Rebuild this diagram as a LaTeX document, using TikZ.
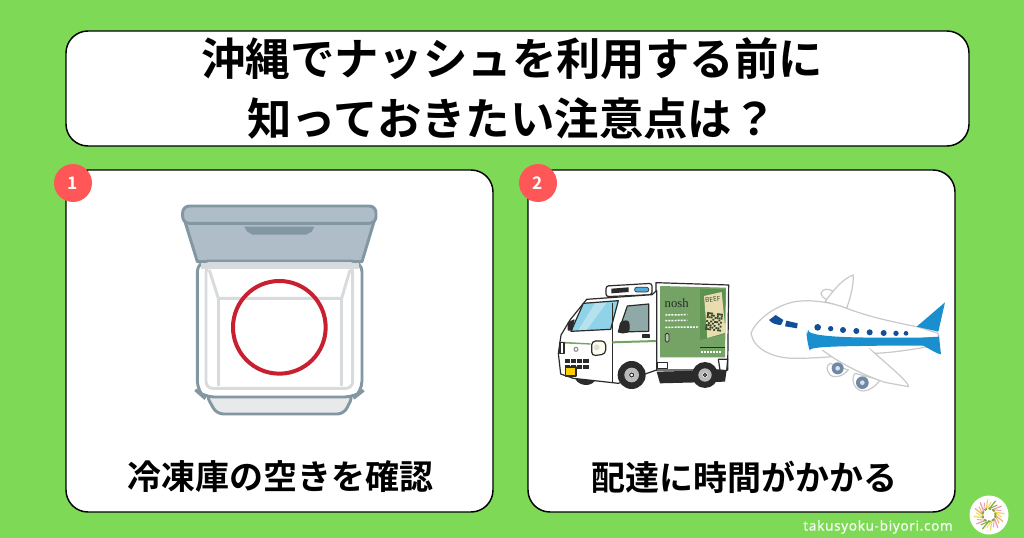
\documentclass[tikz,border=0pt]{standalone}
\usepackage{fontspec}
\setmainfont{Noto Sans}
\newfontfamily\cjk{Noto Sans CJK JP}[BoldFont={Noto Sans CJK JP Bold}]
\newfontfamily\urlfont{Noto Sans}[LetterSpace=5,FakeBold=0.6]
\newfontfamily\logofont{Liberation Serif}
\definecolor{bg}{HTML}{7ED957}
\definecolor{badge}{HTML}{FF5757}
\definecolor{lidc}{HTML}{AFBDC8}
\definecolor{lidl}{HTML}{8397A3}
\definecolor{inner}{HTML}{D8DBDD}
\definecolor{ringc}{HTML}{C9202F}
\definecolor{tgreen}{HTML}{74A365}
\definecolor{tdark}{HTML}{5C9150}
\definecolor{paper}{HTML}{E9DDB0}
\definecolor{ink}{HTML}{2B2B2B}
\definecolor{glassc}{HTML}{8FD3E8}
\definecolor{doorglass}{HTML}{8FA9A8}
\definecolor{pblue}{HTML}{1A8FD0}
\definecolor{pnavy}{HTML}{124F97}
\definecolor{pgrey}{HTML}{C9C9C9}
\definecolor{engine}{HTML}{6F88A6}
\definecolor{lpink}{HTML}{F09AB0}
\definecolor{lyellow}{HTML}{F2D65A}
\definecolor{lorange}{HTML}{F0B060}
\definecolor{lgreen}{HTML}{7FA83C}
\tikzset{
  panel/.style={draw=black,line width=1.1pt,fill=white,rounded corners=16.5pt},
  badgenode/.style={circle,fill=badge,text=white,minimum size=28.5pt,inner sep=0pt,font=\cjk\bfseries\fontsize{13}{13}\selectfont},
  titletext/.style={font=\cjk\bfseries\fontsize{33.3}{44.3}\selectfont,align=center,text=black,inner sep=0pt},
  captext/.style={font=\cjk\bfseries\fontsize{25.5}{25.5}\selectfont,text=black,inner sep=0pt},
  truckline/.style={draw=ink,line width=0.9pt,line join=round},
  planeline/.style={draw=pgrey,line width=0.9pt,line join=round,fill=white},
  zoomgrid/.style={shift={#1},scale=1/3}
}
\begin{document}
\begin{tikzpicture}[x=0.75pt,y=-0.75pt]
\useasboundingbox (0,0) rectangle (1024,538);
\fill[bg] (0,0) rectangle (1024,538);
% panels
\draw[panel] (66,31) rectangle (969,146);
\draw[panel] (66,170) rectangle (493,512);
\draw[panel] (528,170) rectangle (955,512);
\node[titletext] (title) at (512,88.5) {沖縄でナッシュを利用する前に\\知っておきたい注意点は？};
\node[badgenode] (b1) at (73,183) {1};
\node[badgenode] (b2) at (538,183) {2};
\node[captext] (c1) at (280,477) {冷凍庫の空きを確認};
\node[captext] (c2) at (744.5,477) {配達に時間がかかる};
% freezer
\begin{scope}[zoomgrid={(170,195)}]
  \draw[lidl,fill=inner!60,line width=2.2pt,rounded corners=5pt] (108,600) -- (550,600) -- (522,657) -- (140,657) -- cycle;
  \draw[lidl,fill=lidc,line width=2.2pt,line join=round] (45,80) -- (612,80) -- (576,200) -- (82,200) -- cycle;
  \draw[lidl,fill=lidc,line width=2.2pt,rounded corners=5pt] (38,33) rectangle (618,85);
  \fill[lidl] (223,95) -- (433,95) -- (425,110) -- (408,119) -- (248,119) -- (232,110) -- cycle;
  \draw[lidl,fill=white,line width=2.2pt,rounded corners=8pt] (82,198) -- (576,198) -- (576,590) -- (556,606) -- (100,606) -- (82,590) -- cycle;
  \fill[inner] (92,203) rectangle (568,222);
  \draw[inner,line width=2.2pt,rounded corners=5pt] (108,212) rectangle (548,580);
  \draw[inner,line width=2.2pt] (118,225) -- (145,310) -- (515,310) -- (540,225);
  \draw[inner,line width=2.2pt] (145,310) -- (145,572);
  \draw[inner,line width=2.2pt] (515,310) -- (515,572);
  \draw[ringc,line width=3pt] (328,397) circle (139);
\end{scope}
% truck
\begin{scope}[zoomgrid={(550,270)}]
  \fill[ink] (70,310) .. controls (75,355) and (135,355) .. (140,320) -- cycle;
  % box
  \draw[truckline,fill=white] (318,38) -- (536,45) -- (533,300) -- (318,300) -- cycle;
  \fill[tgreen] (330,48) -- (528,53) -- (525,262) -- (330,262) -- cycle;
  % chassis
  \fill[ink] (320,305) -- (530,300) -- (525,335) -- (330,340) -- cycle;
  \draw[truckline,fill=white] (322,278) rectangle (352,296);
  \draw[truckline,fill=white] (505,268) -- (533,268) -- (530,302) -- (510,300) -- cycle;
  % cooling unit
  \draw[truckline,fill=white,rounded corners=2pt] (168,48) -- (306,40) -- (306,74) -- (168,80) -- cycle;
  \fill[ink] (184,56) -- (236,52) -- (236,66) -- (184,70) -- cycle;
  \draw[ink,fill=pblue!75!white,line width=0.5pt,rounded corners=1.5pt] (254,52) rectangle (296,66);
  % cab
  \draw[truckline,fill=white] (110,88) -- (306,74) -- (320,62) -- (320,300) -- (205,340) -- (70,325) -- (32,312) -- (25,250) -- (33,195) -- (60,150) -- cycle;
  \draw[truckline,fill=glassc] (100,100) -- (205,92) -- (182,178) -- (63,184) -- cycle;
  \fill[white,opacity=.35] (135,100) -- (170,98) -- (110,180) -- (85,180) -- cycle;
  \draw[truckline,fill=ink] (55,158) -- (72,150) -- (65,180) -- (55,180) -- cycle;
  % door window
  \draw[truckline,fill=doorglass] (205,186) -- (232,108) -- (296,102) -- (296,184) -- cycle;
  \draw[truckline,fill=ink,rounded corners=2pt] (206,188) -- (212,155) -- (236,152) -- (238,182) -- (230,188) -- cycle;
  \draw[truckline] (187,100) -- (187,340);
  \draw[truckline,fill=ink] (278,195) rectangle (298,203);
  \fill[tgreen] (32,215) -- (122,220) -- (122,224) -- (32,220) -- cycle;
  \fill[tgreen] (187,214) -- (318,210) -- (318,216) -- (187,220) -- cycle;
  % headlamp
  \draw[truckline,fill=yellow!8!white,rounded corners=3pt] (125,213) -- (167,213) -- (167,252) -- (125,258) -- cycle;
  \fill[gray!25] (140,232) circle (9);
  \draw[truckline,fill=white] (30,218) -- (42,218) -- (42,250) -- (30,250) -- cycle;
  \draw[gray,line width=0.7pt] (78,238) circle (6);
  % bumper
  \fill[ink] (44,268) rectangle (116,280);
  \fill[ink] (44,285) rectangle (116,296);
  \foreach \x in {60,78,96}{\fill[white] (\x,268) rectangle +(4,28);}
  \draw[truckline,fill=yellow!65!orange] (46,291) rectangle (78,318);
  % wheels
  \fill[ink] (245,315) circle (42);
  \fill[gray!55] (245,315) circle (22);
  \fill[white] (245,315) circle (9);
  \draw[ink,line width=0.8pt] (245,315) circle (6);
  \fill[ink] (465,315) circle (39);
  \fill[gray!55] (465,315) circle (20);
  \fill[white] (465,315) circle (8);
  \draw[ink,line width=0.8pt] (465,315) circle (5);
  % graphics on box
  \node[text=ink,inner sep=0pt,font=\logofont\fontsize{9.5}{9.5}\selectfont] (noshlogo) at (380,100) {nosh};
  \foreach \yy/\xe in {135/412,152/412,172/444}{
    \draw[white,line width=1.1pt,dash pattern=on 1.5pt off 0.8pt] (346,\yy) -- (\xe,\yy-1);
  }
  \draw[ink,fill=tgreen!60!black!40!white,rounded corners=1pt,line width=0.6pt] (346,190) rectangle (357,216);
  \fill[tdark] (450,56) -- (526,58) -- (524,192) -- (450,210) -- cycle;
  \fill[paper] (462,78) -- (515,66) -- (527,188) -- (472,204) -- cycle;
  \node[rotate=6,text=tgreen!50!black,inner sep=0pt,font=\bfseries\fontsize{5}{5}\selectfont] (beef) at (488,88) {BEEF};
  \begin{scope}[shift={(472,126)},rotate=-7]
    \foreach \a/\b in {0/0,6/0,12/0,30/0,36/0,42/0,0/6,12/6,18/6,30/6,42/6,0/12,6/12,12/12,24/12,30/12,36/12,42/12,18/18,36/18,0/24,12/24,24/24,30/24,42/24,6/30,18/30,36/30,0/36,6/36,12/36,24/36,42/36,0/42,12/42,18/42,30/42,36/42,0/48,6/48,12/48,24/48,36/48,42/48}
      {\fill[tgreen!45!black] (\a,\b) rectangle +(5.5,5.5);}
  \end{scope}
  \draw[ink,line width=0.9pt] (450,232) -- (524,232);
  \draw[white,line width=1pt,dash pattern=on 1.5pt off 0.8pt] (452,246) -- (514,246);
\end{scope}
% plane
\begin{scope}[zoomgrid={(745,265)}]
  \draw[planeline] (262,100) .. controls (250,110) and (230,100) .. (228,85) .. controls (232,70) and (250,70) .. (262,78) -- cycle;
  \draw[planeline] (240,110) .. controls (270,70) and (295,40) .. (325,30) .. controls (325,70) and (315,100) .. (305,130) -- cycle;
  \draw[planeline] (255,295) .. controls (240,300) and (245,335) .. (270,335) .. controls (290,335) and (300,325) .. (310,315) -- cycle;
  \draw[planeline] (330,325) .. controls (315,345) and (330,378) .. (355,378) .. controls (380,375) and (395,360) .. (405,345) -- cycle;
  \fill[engine] (278,310) circle (18);
  \fill[white!75!engine] (278,310) circle (7);
  \fill[engine] (352,353) circle (19);
  \fill[white!75!engine] (352,353) circle (7);
  \draw[planeline] (18,205) .. controls (30,170) and (80,130) .. (130,115) .. controls (175,100) and (250,108) .. (305,130) .. controls (370,155) and (440,170) .. (515,185) -- (580,205) -- (580,240) .. controls (520,250) and (440,265) .. (380,265) .. controls (300,270) and (240,280) .. (150,280) .. controls (80,280) and (25,250) .. (18,205) -- cycle;
  \draw[planeline] (232,255) .. controls (270,285) and (340,325) .. (420,352) -- (490,365) .. controls (495,355) and (430,300) .. (372,250);
  \fill[white] (240,258) -- (372,250) -- (420,310) -- (330,300) -- cycle;
  \fill[pblue] (515,185) -- (600,112) -- (580,200) -- cycle;
  \fill[pblue] (530,218) -- (582,215) -- (588,268) .. controls (570,265) and (545,245) .. (530,240) -- cycle;
  \fill[pblue,rounded corners=8pt] (184,226) .. controls (186,214) and (300,217) .. (400,218) -- (582,218) -- (582,242) -- (400,242) .. controls (300,244) and (190,244) .. (184,226) -- cycle;
  \fill[pnavy] (72,165) -- (92,150) -- (115,165) -- (108,180) .. controls (95,180) and (80,175) .. (72,165) -- cycle;
  \fill[pnavy] (124,167) -- (158,175) -- (156,190) -- (120,184) -- cycle;
  \foreach \x/\y/\r in {218/187/10,257/191/8,294/195/9,334/198/9,374/202/9,416/204/9,453/205/8,483/205/7}{
    \fill[pnavy] (\x,\y) circle (\r);
  }
\end{scope}
% logo and address
\fill[white] (989,515) circle (19.5);
\foreach \a/\c in {0/lorange,30/lpink,60/lyellow,90/lgreen,120/lpink,150/lyellow,180/lorange,210/lpink,240/lyellow,270/lgreen,300/lpink,330/lyellow}{
  \draw[\c,line width=0.9pt] ([shift={(\a:6)}]989,515) -- ([shift={(\a+25:15.5)}]989,515);
  \draw[\c,line width=0.7pt] ([shift={(\a+12:7)}]989,515) -- ([shift={(\a+40:13)}]989,515);
}
\draw[lgreen,line width=1.4pt,dash pattern=on 2pt off 1.2pt] (989,515) circle (6.5);
\node[text=white!92!bg,inner sep=0pt,font=\urlfont\fontsize{10.15}{10}\selectfont] (url) at (878,527) {takusyoku-biyori.com};
\end{tikzpicture}
\end{document}
